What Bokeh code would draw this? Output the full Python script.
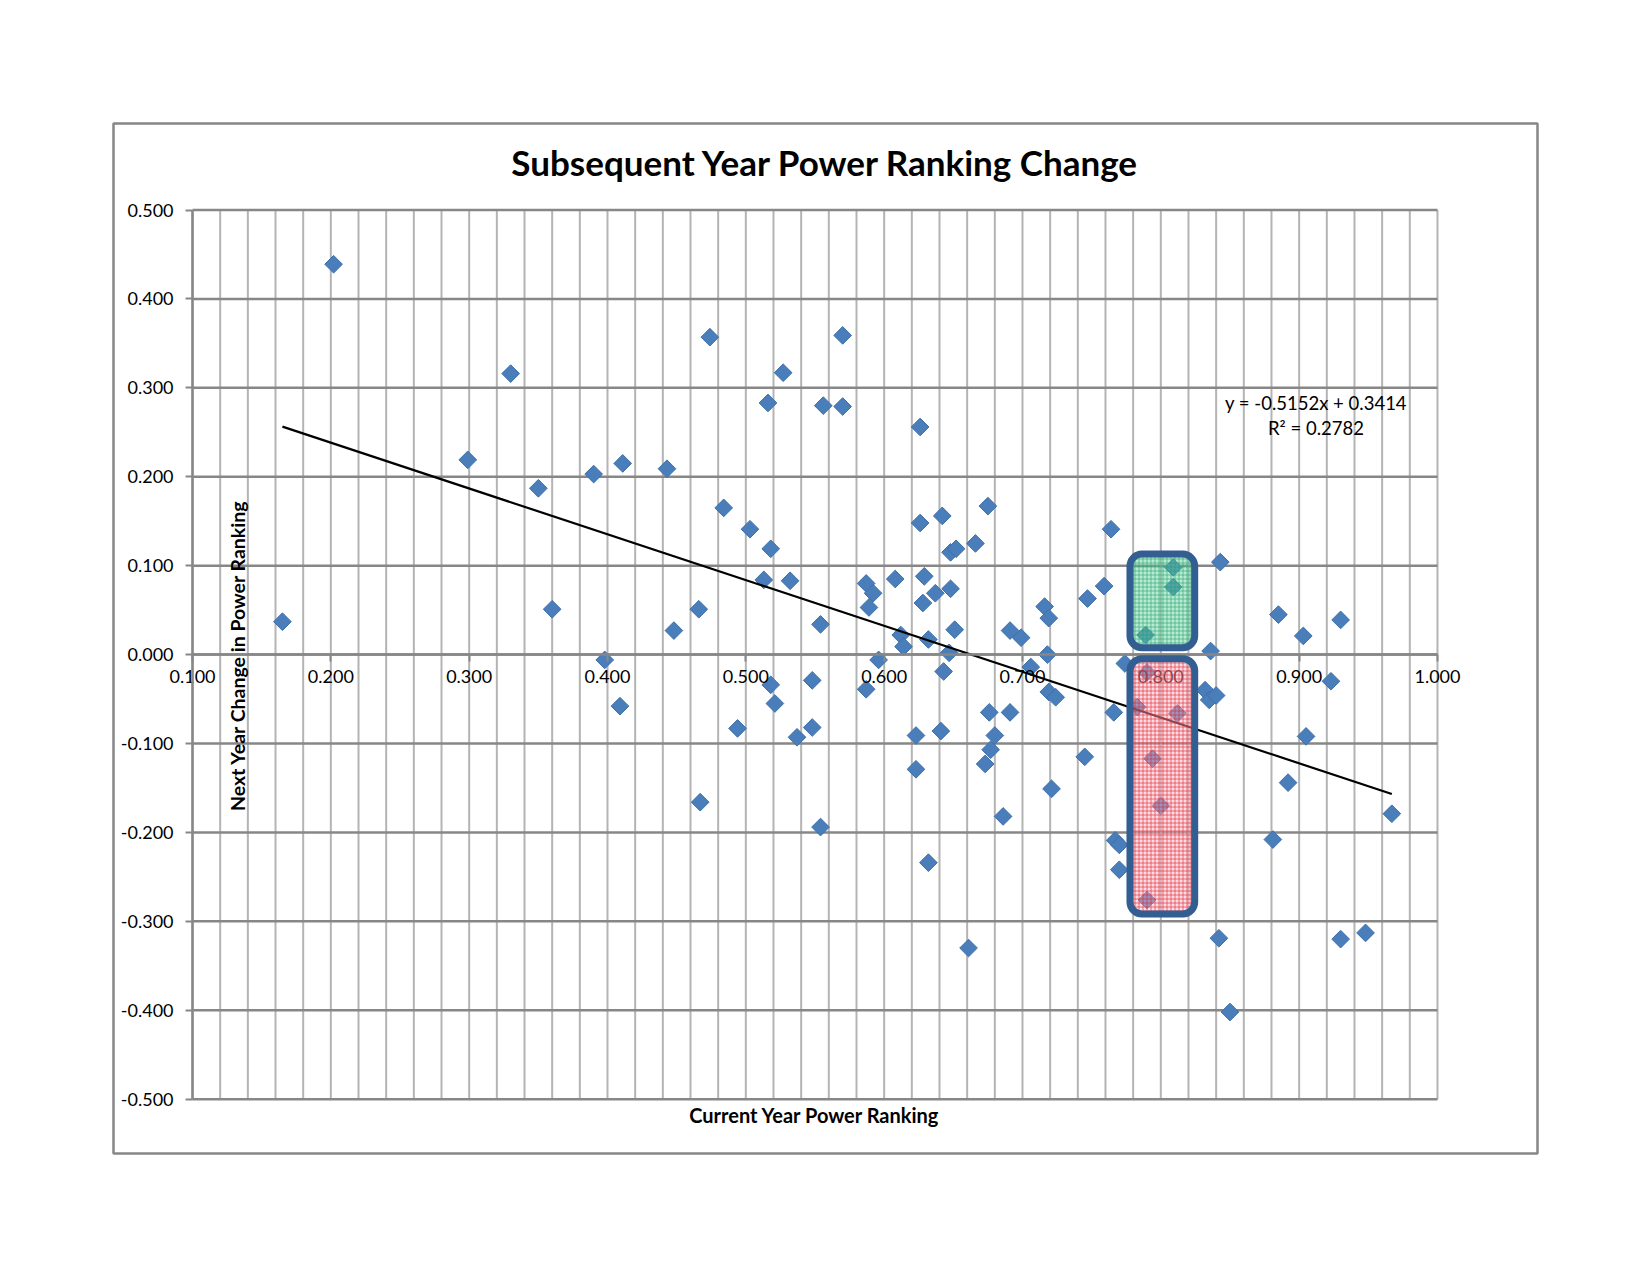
import math
import numpy as np
from bokeh.plotting import figure
from bokeh.models import (Range1d, FixedTicker, NumeralTickFormatter, BoxAnnotation, Label, LinearAxis)
from bokeh.embed import file_html
from bokeh.resources import INLINE

# ---------------- data ----------------
current_rank = [0.165, 0.202, 0.299, 0.330, 0.350, 0.360, 0.390, 0.398, 0.409, 0.411,
                0.443, 0.448, 0.466, 0.467, 0.474, 0.484, 0.494, 0.503, 0.513, 0.516,
                0.518, 0.518, 0.521, 0.527, 0.532, 0.537, 0.548, 0.548, 0.554, 0.554,
                0.556, 0.570, 0.570, 0.587, 0.587, 0.589, 0.592, 0.596, 0.608, 0.612,
                0.614, 0.623, 0.623, 0.626, 0.626, 0.628, 0.629, 0.632, 0.632, 0.637,
                0.641, 0.642, 0.643, 0.647, 0.648, 0.648, 0.652, 0.651, 0.661, 0.666,
                0.673, 0.675, 0.676, 0.677, 0.680, 0.686, 0.691, 0.691, 0.699, 0.706,
                0.716, 0.718, 0.719, 0.719, 0.721, 0.724, 0.745, 0.747, 0.759, 0.764,
                0.766, 0.767, 0.770, 0.770, 0.774, 0.783, 0.789, 0.790, 0.790, 0.794,
                0.800, 0.809, 0.809, 0.812, 0.832, 0.835, 0.836, 0.840, 0.842, 0.843,
                0.850, 0.881, 0.885, 0.892, 0.903, 0.905, 0.923, 0.930, 0.930, 0.948,
                0.967]
next_change = [0.037, 0.439, 0.219, 0.316, 0.187, 0.051, 0.203, -0.006, -0.058, 0.215,
               0.209, 0.027, 0.051, -0.166, 0.357, 0.165, -0.083, 0.141, 0.084, 0.283,
               0.119, -0.034, -0.055, 0.317, 0.083, -0.093, -0.029, -0.082, 0.034, -0.194,
               0.280, 0.359, 0.279, 0.080, -0.039, 0.053, 0.069, -0.006, 0.085, 0.022,
               0.009, -0.091, -0.129, 0.256, 0.148, 0.058, 0.088, 0.017, -0.234, 0.069,
               -0.086, 0.156, -0.019, 0.002, 0.074, 0.115, 0.119, 0.028, -0.330, 0.125,
               -0.123, 0.167, -0.065, -0.107, -0.091, -0.182, 0.027, -0.065, 0.019, -0.014,
               0.054, 0.000, 0.041, -0.042, -0.151, -0.048, -0.115, 0.063, 0.077, 0.141,
               -0.065, -0.209, -0.214, -0.242, -0.010, -0.059, 0.022, -0.020, -0.276, -0.117,
               -0.170, 0.098, 0.076, -0.066, -0.040, -0.051, 0.004, -0.046, -0.319, 0.104,
               -0.402, -0.208, 0.045, -0.144, 0.021, -0.092, -0.030, 0.039, -0.320, -0.313,
               -0.179]

# trendline as printed on the chart
trend_slope = -0.5152
trend_intercept = 0.3414
trend_r2 = 0.2782

x_ticks = [0.1, 0.2, 0.3, 0.4, 0.5, 0.6, 0.7, 0.8, 0.9, 1.0]
y_ticks = [-0.5, -0.4, -0.3, -0.2, -0.1, 0.0, 0.1, 0.2, 0.3, 0.4, 0.5]
x_min, x_max = 0.1, 1.0
y_min, y_max = -0.5, 0.5

# highlighted region around current rank ~0.80
band_left, band_right = 0.7777, 0.8245
green_top, green_bottom = 0.113, 0.0076
red_top, red_bottom = -0.0047, -0.2918

title_text = "Subsequent Year Power Ranking Change"
x_title = "Current  Year Power Ranking"
y_title = "Next Year Change in Power Ranking"

# ---------------- figure ----------------
# the frame covers the whole chart box; the plot area is 0.1..1.0 x -0.5..0.5 inside it
FONT = "Lato"
p = figure(frame_width=1424, frame_height=1030,
           min_border_left=113, min_border_top=123, min_border_right=20, min_border_bottom=20,
           x_range=Range1d(0.04288, 1.07231), y_range=Range1d(-0.5611, 0.5973),
           x_axis_type=None, y_axis_type=None,
           output_backend="svg", toolbar_location=None,
           background_fill_color="white", border_fill_color="white")
p.grid.visible = False
p.outline_line_color = "#878787"
p.outline_line_width = 2.5

# grid lines (plot area only)
minor_x = [round(v, 2) for v in np.linspace(x_min, x_max, 46)]
p.segment(x0=minor_x, y0=y_min, x1=minor_x, y1=y_max, line_color="#b4b4b4", line_width=2)
p.segment(x0=x_min, y0=y_ticks, x1=x_max, y1=y_ticks, line_color="#878787", line_width=2.5)

# x axis crossing at y = 0
xax = LinearAxis(fixed_location=0, bounds=(x_min, x_max))
xax.ticker = FixedTicker(ticks=x_ticks)
xax.formatter = NumeralTickFormatter(format="0.000")
xax.axis_line_color = "#878787"
xax.axis_line_width = 2.5
xax.major_tick_line_color = "#878787"
xax.major_tick_line_width = 2
xax.major_tick_in = 0
xax.major_tick_out = 7
xax.minor_tick_line_color = None
xax.major_label_standoff = 8
xax.major_label_text_font = FONT
xax.major_label_text_font_size = "18px"
xax.major_label_text_color = "black"
p.add_layout(xax, "below")

yax = LinearAxis(fixed_location=x_min, bounds=(y_min, y_max))
yax.ticker = FixedTicker(ticks=y_ticks)
yax.formatter = NumeralTickFormatter(format="0.000")
yax.axis_line_color = "#878787"
yax.axis_line_width = 2.5
yax.major_tick_line_color = "#878787"
yax.major_tick_line_width = 2
yax.major_tick_in = 0
yax.major_tick_out = 7
yax.minor_tick_line_color = None
yax.major_label_standoff = 12
yax.major_label_text_font = FONT
yax.major_label_text_font_size = "18px"
yax.major_label_text_color = "black"
p.add_layout(yax, "left")

# points
p.scatter(current_rank, next_change, marker="square", angle=math.pi / 4, size=12.5,
          fill_color="#4a7ebb", line_color="#3f6fa8", line_width=1)

# trendline drawn over the observed x range
tx = np.array([min(current_rank), max(current_rank)])
p.line(tx, trend_slope * tx + trend_intercept, line_color="black", line_width=2.2)

# highlighted boxes
p.add_layout(BoxAnnotation(left=band_left, right=band_right, top=green_top, bottom=green_bottom,
                           fill_color="#5fd0a0", fill_alpha=0.45,
                           hatch_pattern="+", hatch_color="#1f9a66", hatch_alpha=0.55,
                           hatch_scale=4, hatch_weight=1,
                           line_color="#325e91", line_alpha=1.0, line_width=7, border_radius=12))
p.add_layout(BoxAnnotation(left=band_left, right=band_right, top=red_top, bottom=red_bottom,
                           fill_color="#f6b4c0", fill_alpha=0.45,
                           hatch_pattern="+", hatch_color="#e02030", hatch_alpha=0.6,
                           hatch_scale=4, hatch_weight=1,
                           line_color="#325e91", line_alpha=1.0, line_width=7, border_radius=12))

# texts
p.add_layout(Label(x=0.5577, y=0.5543, text=title_text, text_align="center", text_baseline="middle",
                   text_font=FONT, text_font_size="35px", text_font_style="bold", text_color="black"))
p.add_layout(Label(x=0.5515, y=-0.5177, text=x_title, text_align="center", text_baseline="middle",
                   text_font=FONT, text_font_size="20px", text_font_style="bold", text_color="black"))
p.add_layout(Label(x=0.1328, y=-0.001, text=y_title, text_align="center", text_baseline="middle",
                   angle=math.pi / 2, text_font=FONT, text_font_size="19.5px", text_font_style="bold",
                   text_color="black"))
p.add_layout(Label(x=0.9122, y=0.2827, text=f"y = {trend_slope:.4f}x + {trend_intercept:.4f}",
                   text_align="center", text_baseline="middle",
                   text_font=FONT, text_font_size="18.5px", text_color="black"))
p.add_layout(Label(x=0.9122, y=0.2546, text=f"R\u00b2 = {trend_r2:.4f}",
                   text_align="center", text_baseline="middle",
                   text_font=FONT, text_font_size="18.5px", text_color="black"))

open("out.html", "w").write(file_html(p, INLINE))
